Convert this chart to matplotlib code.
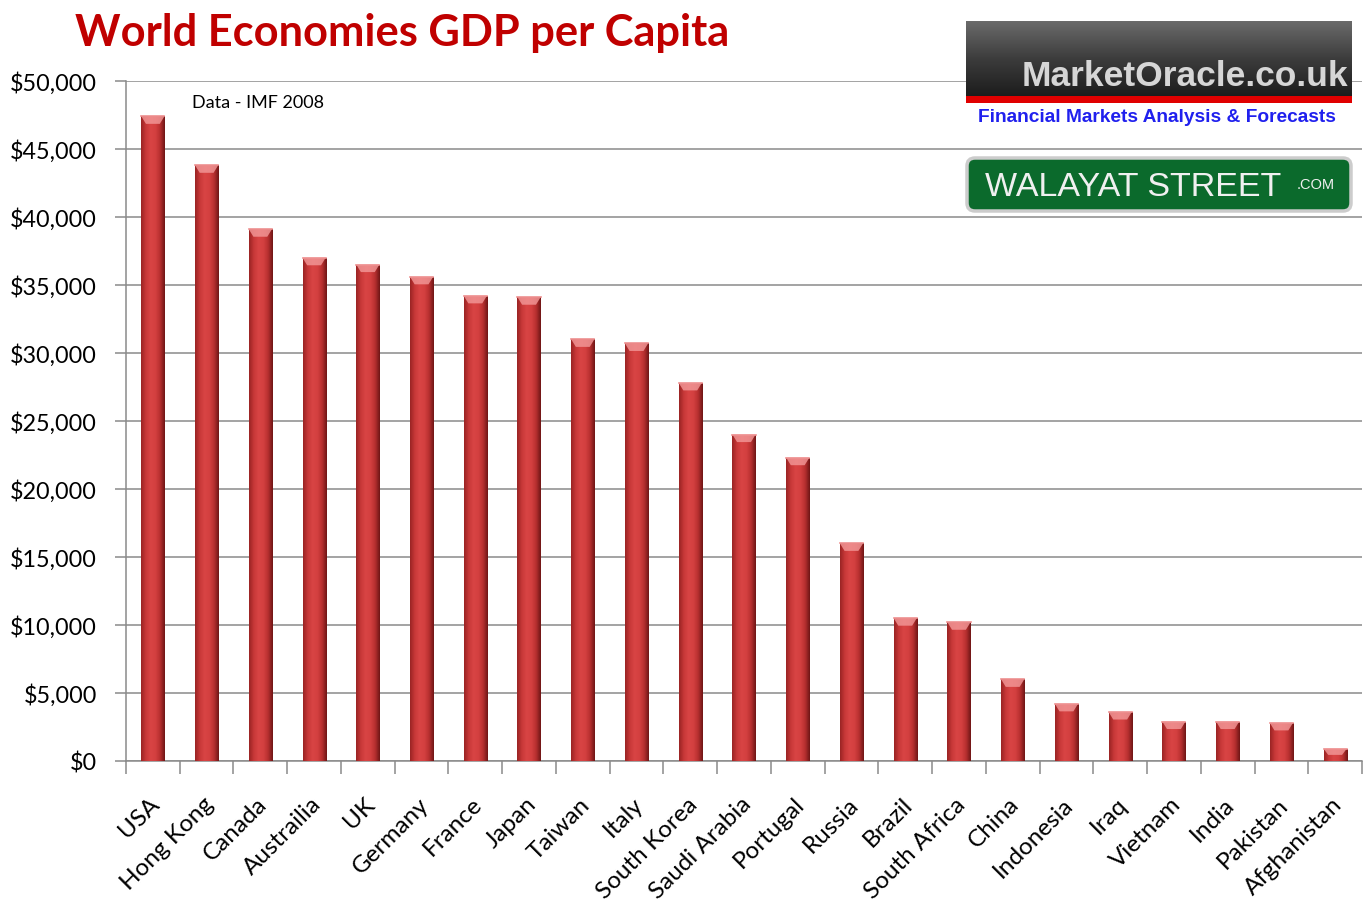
import matplotlib
matplotlib.use('Agg')
import matplotlib.pyplot as plt
import numpy as np
from matplotlib.colors import LinearSegmentedColormap
from matplotlib.patches import Rectangle, FancyBboxPatch, Polygon
from matplotlib.ticker import FuncFormatter, MultipleLocator
from matplotlib.transforms import ScaledTranslation

# GDP per capita, IMF 2008 (US$)
countries = ['USA', 'Hong Kong', 'Canada', 'Austrailia', 'UK', 'Germany', 'France',
             'Japan', 'Taiwan', 'Italy', 'South Korea', 'Saudi Arabia', 'Portugal',
             'Russia', 'Brazil', 'South Africa', 'China', 'Indonesia', 'Iraq',
             'Vietnam', 'India', 'Pakistan', 'Afghanistan']
gdp_per_capita = [47400, 43800, 39100, 37000, 36500, 35600, 34200,
                  34100, 31000, 30700, 27800, 24000, 22300,
                  16000, 10500, 10200, 6000, 4200, 3600,
                  2900, 2900, 2800, 900]

plt.rcParams['font.family'] = ['Lato', 'DejaVu Sans']

fig = plt.figure(figsize=(13.63, 9.03), dpi=100)
W, H = 1363.0, 903.0
ax = fig.add_axes([126 / W, 1 - 762 / H, (1362 - 126) / W, (762 - 82) / H])

x = np.arange(len(countries))
bars = ax.bar(x, gdp_per_capita, width=0.43, color='#cc3a3a', zorder=3, linewidth=0)

# shaded cylinder look for each bar, with a pale bevel on top
body = LinearSegmentedColormap.from_list('body', ['#9a2424', '#c83838', '#d84444', '#d44040', '#b83030', '#701616'])
for b in bars:
    x0, w, h = b.get_x(), b.get_width(), b.get_height()
    im = ax.imshow(np.linspace(0, 1, 64)[None, :], cmap=body, extent=(x0, x0 + w, 0, h),
                   aspect='auto', zorder=3.5, interpolation='bilinear')
    im.set_clip_path(b)
    cap = min(550, h * 0.5)
    ax.add_patch(Polygon([(x0, h), (x0 + w, h), (x0 + w * 0.8, h - cap), (x0 + w * 0.2, h - cap)],
                         closed=True, facecolor='#f39a9a', edgecolor='none', alpha=0.8, zorder=4))
    ax.plot([x0, x0 + w], [h, h], color='#ee9090', lw=1.2, zorder=4)

ax.set_xlim(-0.5, len(countries) - 0.5)
ax.set_ylim(0, 50000)
ax.yaxis.set_major_locator(MultipleLocator(5000))
ax.yaxis.set_major_formatter(FuncFormatter(lambda v, p: '${:,.0f}'.format(v)))
ax.grid(axis='y', color='#8a8a8a', linewidth=1.1, zorder=0)
ax.set_axisbelow(True)

for side in ['top', 'right']:
    ax.spines[side].set_visible(False)
for side in ['left', 'bottom']:
    ax.spines[side].set_color('#8a8a8a')
    ax.spines[side].set_linewidth(1.1)

ax.set_xticks(x)
ax.set_xticklabels(countries, rotation=45, ha='right', rotation_mode='anchor', fontsize=17.5)
ax.set_xticks(np.arange(len(countries) + 1) - 0.5, minor=True)
ax.tick_params(axis='x', which='major', length=0, pad=23)
ax.tick_params(axis='x', which='minor', length=9, width=1.1, color='#8a8a8a')
ax.tick_params(axis='y', length=8, width=1.1, color='#8a8a8a', labelsize=16.8, pad=13)
# nudge the slanted names a little to the left
shift = ScaledTranslation(-4 / 100, 0, fig.dpi_scale_trans)
for lab in ax.get_xticklabels():
    lab.set_transform(lab.get_transform() + shift)

fig.text(75 / W, 1 - 33 / H, 'World Economies GDP per Capita', color='#c00000',
         fontsize=31.2, fontweight='bold', va='center', ha='left')
fig.text(192 / W, 1 - 103 / H, 'Data - IMF 2008', fontsize=13, va='center', ha='left')

# banners in the top right corner
lg = fig.add_axes([0, 0, 1, 1], zorder=10)
lg.patch.set_alpha(0)

shade = LinearSegmentedColormap.from_list('shade', ['#6a6a6a', '#3c3c3c', '#1c1c1c'])
lg.imshow(np.linspace(0, 1, 64)[:, None], cmap=shade, extent=(966, 1352, 98, 22),
          aspect='auto', interpolation='bilinear')
lg.add_patch(Rectangle((966, 97), 386, 7, facecolor='#e00000', edgecolor='none'))
lg.text(1185, 76, 'MarketOracle.co.uk', family='Liberation Sans', fontweight='bold',
        fontsize=25.5, color='#d6d6d6', ha='center', va='center')
lg.text(1157, 117, 'Financial Markets Analysis & Forecasts', family='Liberation Sans',
        fontweight='bold', fontsize=13.8, color='#2020ee', ha='center', va='center')

lg.add_patch(FancyBboxPatch((970, 162), 378, 47, boxstyle='round,pad=3,rounding_size=8',
                            facecolor='#0b6a2c', edgecolor='#cccccc', linewidth=2.5))
lg.text(985, 187, 'WALAYAT STREET', family='Liberation Sans', fontsize=24.5,
        color='#f0f0f0', ha='left', va='center')
lg.text(1297, 185, '.COM', family='Liberation Sans', fontsize=10.5,
        color='#f0f0f0', ha='left', va='center')
lg.set_xlim(0, W)
lg.set_ylim(H, 0)
lg.axis('off')

fig.savefig('out.png', dpi=100)
